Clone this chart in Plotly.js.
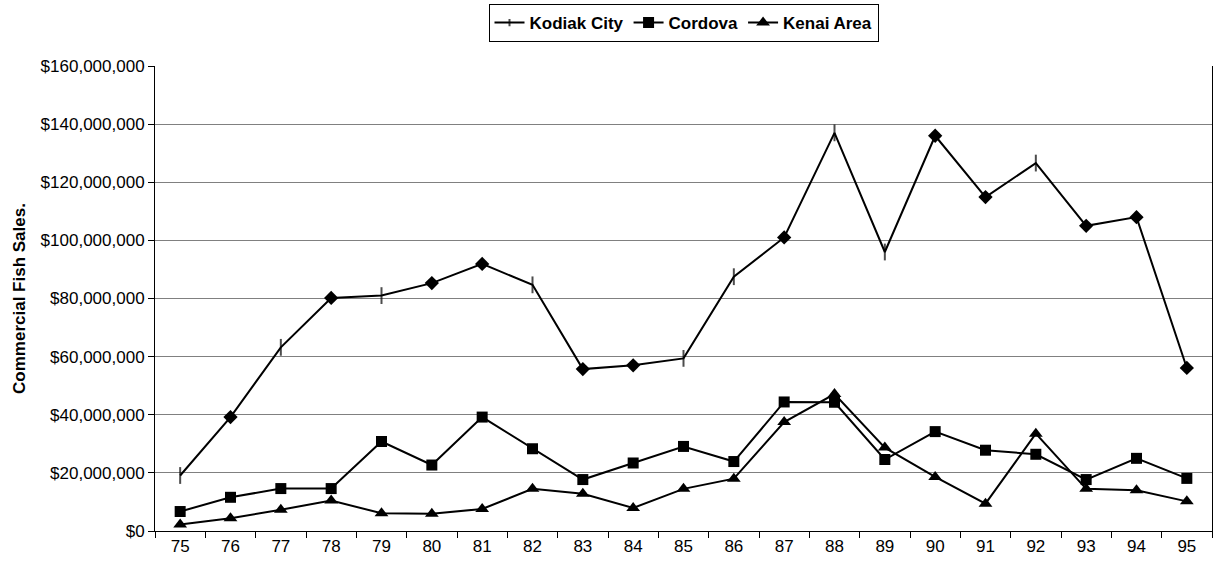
<!DOCTYPE html>
<html>
<head>
<meta charset="utf-8">
<script src="https://cdn.plot.ly/plotly-3.0.1.min.js"></script>
<style>html,body{margin:0;padding:0;background:#fff;}#chart{width:1227px;height:571px;}</style>
</head>
<body>
<div id="chart"></div>
<script>
const years = ["75","76","77","78","79","80","81","82","83","84","85","86","87","88","89","90","91","92","93","94","95"];
const kodiakCity = [19.1e6,39.2e6,63.2e6,80.2e6,81.0e6,85.3e6,91.9e6,84.7e6,55.7e6,57.0e6,59.4e6,87.5e6,101.0e6,137.0e6,96.0e6,136.0e6,114.9e6,126.6e6,105.0e6,108.0e6,56.1e6];
const cordova = [6.7e6,11.6e6,14.6e6,14.6e6,30.8e6,22.7e6,39.2e6,28.3e6,17.7e6,23.4e6,29.1e6,23.9e6,44.4e6,44.3e6,24.6e6,34.2e6,27.8e6,26.4e6,17.7e6,25.0e6,18.1e6];
const kenaiArea = [2.2e6,4.4e6,7.3e6,10.5e6,6.1e6,5.9e6,7.6e6,14.5e6,12.8e6,7.9e6,14.5e6,18.0e6,37.5e6,47.1e6,28.7e6,18.6e6,9.4e6,33.5e6,14.5e6,14.0e6,10.2e6];
const seriesNames = ["Kodiak City","Cordova","Kenai Area"];

// In the original rendering some Kodiak points show as diamonds, the rest as tick marks
const diamondYears = ["76","78","80","81","83","84","87","90","91","93","94","95"];
const isDiamond = years.map(y => diamondYears.includes(y));

const traces = [
  {x: years, y: kodiakCity, name: seriesNames[0], type: "scatter", mode: "lines+markers",
   line: {color: "#000", width: 2},
   marker: {symbol: "line-ns-open", size: isDiamond.map(d => d ? 0 : 12), color: "#000",
            line: {color: "#000", width: 2}}},
  {x: years, y: kodiakCity.map((v, i) => isDiamond[i] ? v : null), name: seriesNames[0] + " (diamond)",
   type: "scatter", mode: "markers", showlegend: false,
   marker: {symbol: "diamond", size: 11, color: "#000", opacity: 1, line: {width: 0}}},
  {x: years, y: cordova, name: seriesNames[1], type: "scatter", mode: "lines+markers",
   line: {color: "#000", width: 2},
   marker: {symbol: "square", size: 11, color: "#000"}},
  {x: years, y: kenaiArea, name: seriesNames[2], type: "scatter", mode: "lines+markers",
   line: {color: "#000", width: 2},
   marker: {symbol: "triangle-up", size: 12, color: "#000"}}
];

const layout = {
  width: 1227, height: 571,
  margin: {l: 155, r: 15, t: 66, b: 40, autoexpand: false},
  paper_bgcolor: "#fff", plot_bgcolor: "#fff",
  font: {family: "Liberation Sans, Arial, sans-serif", color: "#000", size: 17},
  showlegend: true,
  legend: {orientation: "h", x: 0.5, xanchor: "center", xref: "paper",
           y: 0.993, yanchor: "top", yref: "container",
           bordercolor: "#000", borderwidth: 1, bgcolor: "#fff",
           font: {size: 17, weight: "bold", family: "Liberation Sans, Arial, sans-serif"},
           itemwidth: 30, tracegroupgap: 0},
  xaxis: {type: "category", range: [-0.5, 20.5], showgrid: false, zeroline: false,
          showline: true, linecolor: "#000", linewidth: 1,
          ticks: "outside", tickson: "boundaries", ticklen: 6, tickcolor: "#000",
          tickfont: {size: 17}, fixedrange: true},
  yaxis: {range: [0, 160e6], dtick: 20e6, tickprefix: "$", tickformat: ",.0f",
          showgrid: true, gridcolor: "#808080", gridwidth: 1,
          zeroline: false, showline: true, mirror: true, linecolor: "#000", linewidth: 1,
          ticks: "outside", ticklen: 6, tickcolor: "#000", tickfont: {size: 17},
          title: {text: "Commercial Fish Sales.", font: {size: 17, weight: "bold"}, standoff: 10},
          fixedrange: true}
};

Plotly.newPlot("chart", traces, layout, {displayModeBar: false, staticPlot: true});
</script>
</body>
</html>
